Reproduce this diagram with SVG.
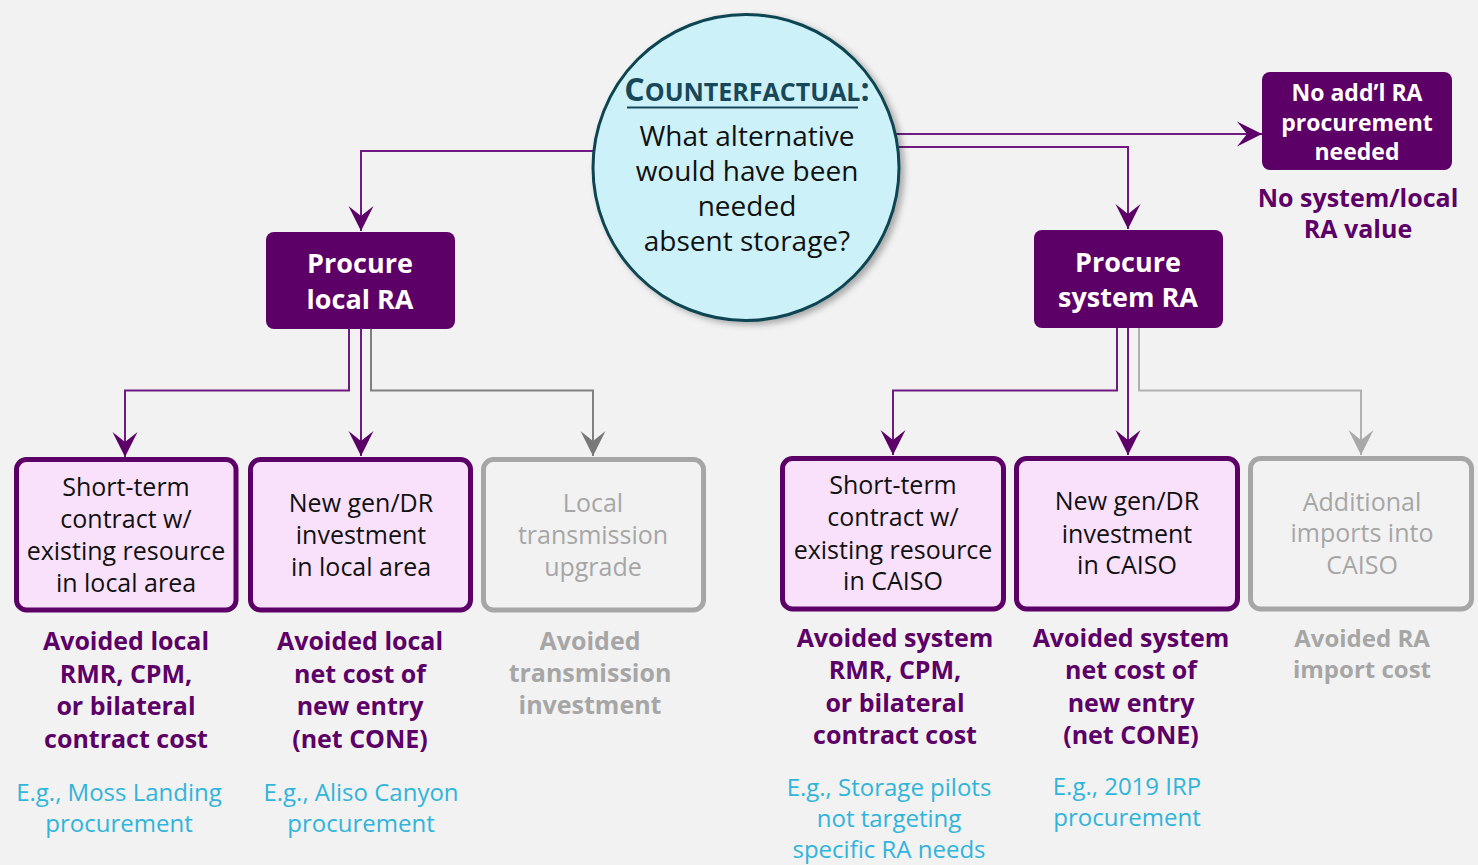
<svg xmlns="http://www.w3.org/2000/svg" width="1478" height="865" viewBox="0 0 1478 865">
  <style>
    text { font-family: "Open Sans", "Noto Sans", "DejaVu Sans", sans-serif; text-anchor: middle; }
    .head { font-size: 27px; font-weight: 700; fill: #ffffff; }
    .head-sm { font-size: 23px; font-weight: 700; fill: #ffffff; }
    .opt { font-size: 25px; fill: #111111; }
    .opt-off { font-size: 25px; fill: #a6a6a6; }
    .val { font-size: 25px; font-weight: 700; fill: #5c0068; }
    .val-off { font-size: 25px; font-weight: 700; fill: #a6a6a6; }
    .val-off-sm { font-size: 24px; font-weight: 700; fill: #a6a6a6; }
    .ex { font-size: 24px; fill: #31b4da; }
    .q { font-size: 28px; fill: #111111; }
    .title { font-weight: 700; fill: #17485a; }
    .dark-box { fill: #5c0068; }
    .opt-box { fill: #f9e1fb; stroke: #5c0068; stroke-width: 5; }
    .off-box { fill: #f2f2f2; stroke: #a6a6a6; stroke-width: 5; }
    .link { fill: none; stroke: #6e1a80; stroke-width: 2; }
    .link-grey { fill: none; stroke: #808080; stroke-width: 2; }
    .link-light { fill: none; stroke: #b0b0b0; stroke-width: 2; }
  </style>
  <defs>
    <marker id="arrow" viewBox="0 -13 26 26" refX="25" refY="0" markerWidth="26" markerHeight="26" markerUnits="userSpaceOnUse" orient="auto">
      <path d="M0,-12.5 L25,0 L0,12.5 L10,0 Z" fill="#5c0068"/>
    </marker>
    <marker id="arrow-grey" viewBox="0 -13 26 26" refX="25" refY="0" markerWidth="26" markerHeight="26" markerUnits="userSpaceOnUse" orient="auto">
      <path d="M0,-12.5 L25,0 L0,12.5 L10,0 Z" fill="#787878"/>
    </marker>
    <marker id="arrow-light" viewBox="0 -13 26 26" refX="25" refY="0" markerWidth="26" markerHeight="26" markerUnits="userSpaceOnUse" orient="auto">
      <path d="M0,-12.5 L25,0 L0,12.5 L10,0 Z" fill="#a8a8a8"/>
    </marker>
    <filter id="shadow" x="-20%" y="-20%" width="140%" height="140%">
      <feDropShadow dx="4" dy="3" stdDeviation="3" flood-color="#000000" flood-opacity="0.3"/>
    </filter>
  </defs>

  <rect width="1478" height="865" fill="#f2f2f2"/>

  <!-- connectors -->
  <g id="connectors">
    <path class="link" d="M593,151 H361 V231" marker-end="url(#arrow)"/>
    <path class="link" d="M896,134 H1262" marker-end="url(#arrow)"/>
    <path class="link" d="M898,147 H1128 V229" marker-end="url(#arrow)"/>

    <path class="link" d="M349,329 V390.5 H125 V457" marker-end="url(#arrow)"/>
    <path class="link" d="M361,329 V456" marker-end="url(#arrow)"/>
    <path class="link-grey" d="M371,329 V390.5 H593 V456" marker-end="url(#arrow-grey)"/>

    <path class="link" d="M1117,328 V390.5 H893 V455" marker-end="url(#arrow)"/>
    <path class="link" d="M1128,328 V455" marker-end="url(#arrow)"/>
    <path class="link-light" d="M1139,328 V390.5 H1361 V455" marker-end="url(#arrow-light)"/>
  </g>

  <!-- central question -->
  <g id="counterfactual">
    <circle cx="746" cy="167.5" r="153" fill="#cdf1f9" stroke="#0f4553" stroke-width="3" filter="url(#shadow)"/>
    <text class="title" x="747" y="101"><tspan font-size="32">C</tspan><tspan font-size="25">OUNTERFACTUAL</tspan><tspan font-size="32">:</tspan></text>
    <line x1="627" y1="107.5" x2="858" y2="107.5" stroke="#17485a" stroke-width="2.2"/>
    <text class="q"><tspan x="747" y="146">What alternative</tspan><tspan x="747" y="181">would have been</tspan><tspan x="747" y="216">needed</tspan><tspan x="747" y="251">absent storage?</tspan></text>
  </g>

  <!-- no additional procurement -->
  <g id="no-procurement">
    <rect class="dark-box" x="1262" y="72" width="190" height="98" rx="8"/>
    <text class="head-sm"><tspan x="1357" y="101">No add’l RA</tspan><tspan x="1357" y="130.5">procurement</tspan><tspan x="1357" y="160">needed</tspan></text>
    <text class="val"><tspan x="1358" y="206.5">No system/local</tspan><tspan x="1358" y="238">RA value</tspan></text>
  </g>

  <!-- local RA branch -->
  <g id="procure-local">
    <rect class="dark-box" x="266" y="232" width="189" height="97" rx="8"/>
    <text class="head"><tspan x="360" y="273">Procure</tspan><tspan x="360" y="309">local RA</tspan></text>
  </g>

  <g id="local-short-term">
    <rect class="opt-box" x="16.5" y="459.5" width="219.5" height="150.5" rx="10"/>
    <text class="opt"><tspan x="126" y="496">Short-term</tspan><tspan x="126" y="527.5">contract w/</tspan><tspan x="126" y="560">existing resource</tspan><tspan x="126" y="592">in local area</tspan></text>
    <text class="val"><tspan x="126" y="650">Avoided local</tspan><tspan x="126" y="682.5">RMR, CPM,</tspan><tspan x="126" y="715">or bilateral</tspan><tspan x="126" y="747.5">contract cost</tspan></text>
    <text class="ex"><tspan x="119" y="801">E.g., Moss Landing</tspan><tspan x="119" y="832">procurement</tspan></text>
  </g>

  <g id="local-new-entry">
    <rect class="opt-box" x="250.5" y="459.5" width="220" height="150.5" rx="10"/>
    <text class="opt"><tspan x="361" y="512">New gen/DR</tspan><tspan x="361" y="543.5">investment</tspan><tspan x="361" y="576">in local area</tspan></text>
    <text class="val"><tspan x="360" y="650">Avoided local</tspan><tspan x="360" y="682.5">net cost of</tspan><tspan x="360" y="715">new entry</tspan><tspan x="360" y="747.5">(net CONE)</tspan></text>
    <text class="ex"><tspan x="361" y="801">E.g., Aliso Canyon</tspan><tspan x="361" y="832">procurement</tspan></text>
  </g>

  <g id="local-transmission">
    <rect class="off-box" x="483.5" y="459.5" width="220" height="150.5" rx="10"/>
    <text class="opt-off"><tspan x="593" y="512">Local</tspan><tspan x="593" y="543.5">transmission</tspan><tspan x="593" y="576">upgrade</tspan></text>
    <text class="val-off"><tspan x="590" y="650">Avoided</tspan><tspan x="590" y="682">transmission</tspan><tspan x="590" y="713.5">investment</tspan></text>
  </g>

  <!-- system RA branch -->
  <g id="procure-system">
    <rect class="dark-box" x="1034" y="230" width="189" height="98" rx="8"/>
    <text class="head"><tspan x="1128" y="271.5">Procure</tspan><tspan x="1128" y="307">system RA</tspan></text>
  </g>

  <g id="system-short-term">
    <rect class="opt-box" x="782.5" y="458.5" width="221" height="150.5" rx="10"/>
    <text class="opt"><tspan x="893" y="494">Short-term</tspan><tspan x="893" y="526">contract w/</tspan><tspan x="893" y="558.5">existing resource</tspan><tspan x="893" y="590">in CAISO</tspan></text>
    <text class="val"><tspan x="895" y="647">Avoided system</tspan><tspan x="895" y="679">RMR, CPM,</tspan><tspan x="895" y="711.5">or bilateral</tspan><tspan x="895" y="743.5">contract cost</tspan></text>
    <text class="ex"><tspan x="889" y="796">E.g., Storage pilots</tspan><tspan x="889" y="827">not targeting</tspan><tspan x="889" y="858">specific RA needs</tspan></text>
  </g>

  <g id="system-new-entry">
    <rect class="opt-box" x="1016.5" y="458.5" width="221" height="150.5" rx="10"/>
    <text class="opt"><tspan x="1127" y="510">New gen/DR</tspan><tspan x="1127" y="542.5">investment</tspan><tspan x="1127" y="574">in CAISO</tspan></text>
    <text class="val"><tspan x="1131" y="647">Avoided system</tspan><tspan x="1131" y="679">net cost of</tspan><tspan x="1131" y="711.5">new entry</tspan><tspan x="1131" y="743.5">(net CONE)</tspan></text>
    <text class="ex"><tspan x="1127" y="794.5">E.g., 2019 IRP</tspan><tspan x="1127" y="825.5">procurement</tspan></text>
  </g>

  <g id="system-imports">
    <rect class="off-box" x="1250.5" y="458.5" width="221" height="150.5" rx="10"/>
    <text class="opt-off"><tspan x="1362" y="511">Additional</tspan><tspan x="1362" y="542">imports into</tspan><tspan x="1362" y="574">CAISO</tspan></text>
    <text class="val-off-sm"><tspan x="1362" y="646.5">Avoided RA</tspan><tspan x="1362" y="677.5">import cost</tspan></text>
  </g>
</svg>
